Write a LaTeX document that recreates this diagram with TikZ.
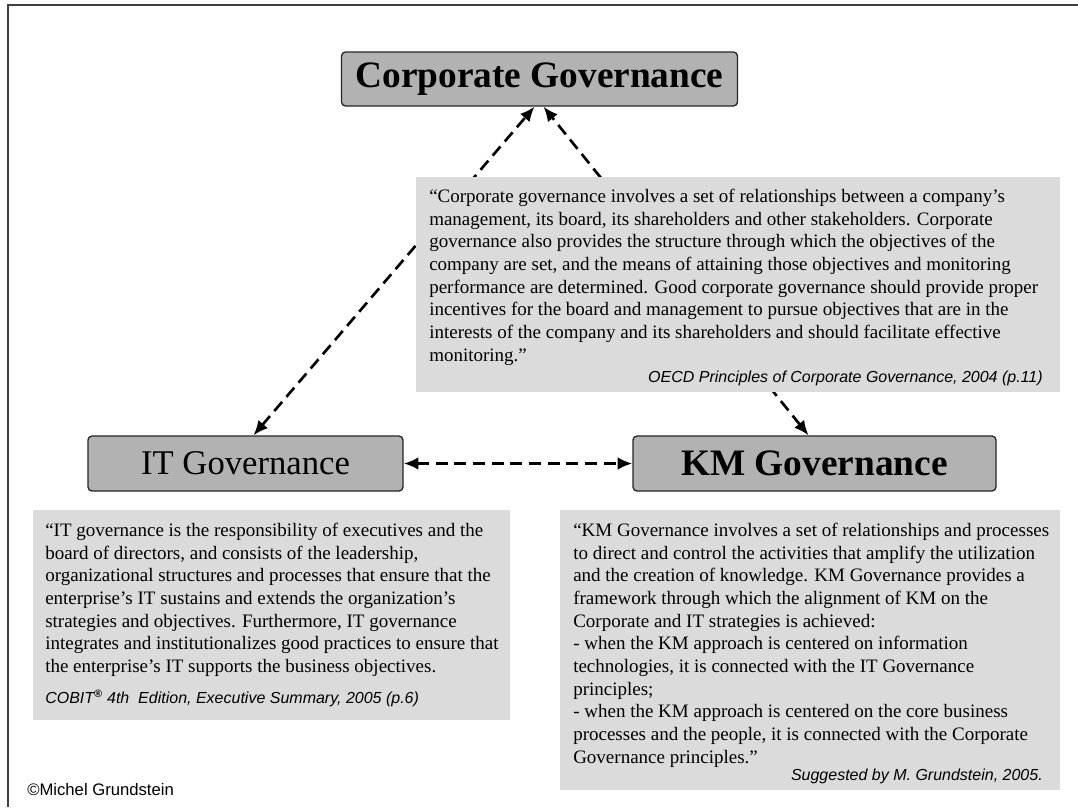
\documentclass[tikz,border=0pt]{standalone}
\usepackage{fontspec}
\setmainfont{Liberation Serif}
\newfontfamily\sansf{Liberation Sans}
\usetikzlibrary{arrows.meta,calc}
\begin{document}
\begin{tikzpicture}[x=0.75pt,y=-0.75pt,
  head/.style={draw=black!85, line width=1pt, fill=black!30, rounded corners=3pt,
    font=\fontsize{28}{32}\selectfont\bfseries, inner sep=0pt},
  qbox/.style={fill=black!14, inner sep=0pt, anchor=north west},
  qtext/.style={anchor=north west, align=left, inner sep=0pt,
    font=\fontsize{14.25}{17}\selectfont},
  src/.style={inner sep=0pt, font=\sansf\itshape\fontsize{12}{14}\selectfont},
  conn/.style={line width=2pt, dash pattern=on 9pt off 5pt,
    {Latex[length=11pt,width=9.5pt]}-{Latex[length=11pt,width=9.5pt]}}
]
\useasboundingbox (0,0) rectangle (1078,807);
\fill[white] (0,0) rectangle (1078,807);
\draw[line width=1.6pt, black!75] (8,807) -- (8,5) -- (1078,5);

% heading boxes
\node[head, minimum width=297pt, minimum height=40.5pt] (cg) at (539.5,79) {Corporate Governance};
\node[head, minimum width=236.25pt, minimum height=41.25pt, font=\fontsize{26}{30}\selectfont] (it) at (245.5,463.5) {IT Governance};
\node[head, minimum width=272.25pt, minimum height=41.25pt] (km) at (814.5,463.5) {KM Governance};

% connectors
\draw[conn] ($(it.north)+(8,0)$) -- ($(cg.south)+(-5,0)$);
\draw[conn] ($(km.north)+(-6,0)$) -- ($(cg.south)+(4,0)$);
\draw[conn] (it.east) -- (km.west);

% corporate governance quote
\node[qbox, minimum width=483pt, minimum height=161.25pt] (cq) at (416,177) {};
\node[qtext] (cqt) at (429,189) {“Corporate governance involves a set of relationships between a company’s\\
management, its board, its shareholders and other stakeholders. Corporate\\
governance also provides the structure through which the objectives of the\\
company are set, and the means of attaining those objectives and monitoring\\
performance are determined. Good corporate governance should provide proper\\
incentives for the board and management to pursue objectives that are in the\\
interests of the company and its shareholders and should facilitate effective\\
monitoring.”};
\node[src, anchor=base east] (cqs) at (1043,382) {OECD Principles of Corporate Governance, 2004 (p.11)};

% IT governance quote
\node[qbox, minimum width=357.75pt, minimum height=157.5pt] (iq) at (33,510) {};
\node[qtext] (iqt) at (45,523) {“IT governance is the responsibility of executives and the\\
board of directors, and consists of the leadership,\\
organizational structures and processes that ensure that the\\
enterprise’s IT sustains and extends the organization’s\\
strategies and objectives. Furthermore, IT governance\\
integrates and institutionalizes good practices to ensure that\\
the enterprise’s IT supports the business objectives.};
\node[src, anchor=base west] (iqs) at (45,703) {COBIT\textsuperscript{\bfseries ®} 4th\ \ Edition, Executive Summary, 2005 (p.6)};

% KM governance quote
\node[qbox, minimum width=375pt, minimum height=210pt] (kq) at (560,510) {};
\node[qtext] (kqt) at (573,523) {“KM Governance involves a set of relationships and processes\\
to direct and control the activities that amplify the utilization\\
and the creation of knowledge. KM Governance provides a\\
framework through which the alignment of KM on the\\
Corporate and IT strategies is achieved:\\
- when the KM approach is centered on information\\
technologies, it is connected with the IT Governance\\
principles;\\
- when the KM approach is centered on the core business\\
processes and the people, it is connected with the Corporate\\
Governance principles.”};
\node[src, anchor=base east] (kqs) at (1043,780) {Suggested by M. Grundstein, 2005.};

\node[anchor=base west, inner sep=0pt, font=\sansf\fontsize{12.5}{14}\selectfont] (copy) at (27,795) {©Michel Grundstein};
\end{tikzpicture}
\end{document}
